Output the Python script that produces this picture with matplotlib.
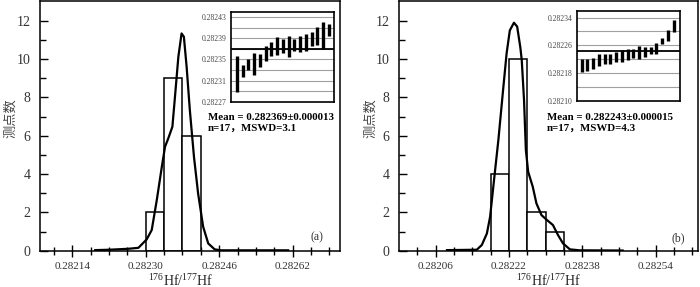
import numpy as np
import matplotlib
matplotlib.use("Agg")
import matplotlib.pyplot as plt
from matplotlib.ticker import FixedLocator, FixedFormatter

plt.rcParams['font.family'] = ['Liberation Serif', 'Noto Sans CJK SC']
plt.rcParams['mathtext.fontset'] = 'custom'
plt.rcParams['mathtext.rm'] = 'Liberation Serif'

# ---- panel (a) ----
a_edges = [0.28230, 0.28234, 0.28238, 0.28242]
a_counts = [2, 9, 6]
a_curve_x = [0.28219, 0.28222, 0.282262, 0.282284, 0.282302, 0.282313, 0.282324,
             0.282335, 0.282342, 0.282349, 0.282358, 0.282363, 0.282371, 0.282378,
             0.282383, 0.282389, 0.282396, 0.282405, 0.282414, 0.282425, 0.282436,
             0.28245, 0.282464, 0.28261]
a_curve_y = [0.03, 0.05, 0.1, 0.15, 0.59, 1.08, 2.64, 4.38, 5.43, 5.86, 6.47, 7.86,
             10.12, 11.34, 11.17, 9.6, 7.34, 4.9, 2.99, 1.25, 0.38, 0.07, 0.02, 0.02]
a_lo = [0.282289, 0.282317, 0.282329, 0.282320, 0.282335, 0.282347, 0.282356,
        0.282358, 0.282363, 0.282355, 0.282366, 0.282364, 0.282366, 0.282375,
        0.282378, 0.282369, 0.282395]
a_hi = [0.282357, 0.282340, 0.282351, 0.282363, 0.282360, 0.282376, 0.282383,
        0.282392, 0.282388, 0.282395, 0.282389, 0.282395, 0.282398, 0.282401,
        0.282411, 0.282420, 0.282416]
a_mean = 0.282369
a_text = ["Mean = 0.282369±0.000013", "n=17，MSWD=3.1"]

# ---- panel (b) ----
b_edges = [0.28218, 0.28222, 0.28226, 0.28230, 0.28234]
b_counts = [4, 10, 2, 1]
b_curve_x = [0.282085, 0.28215, 0.282161, 0.282172, 0.282179, 0.282186, 0.282197,
             0.282208, 0.282215, 0.282222, 0.282231, 0.282238, 0.282245, 0.282248,
             0.282253, 0.282257, 0.282262, 0.282272, 0.282280, 0.282291, 0.282303,
             0.282316, 0.282327, 0.282338, 0.282353, 0.282374, 0.282468]
b_curve_y = [0.03, 0.05, 0.3, 0.9, 1.77, 3.34, 5.77, 8.56, 10.3, 11.5, 11.9, 11.7,
             10.6, 9.95, 7.86, 5.25, 4.12, 3.34, 2.47, 1.86, 1.6, 1.34, 0.82, 0.38,
             0.07, 0.02, 0.01]
b_lo = [0.282182, 0.282184, 0.282192, 0.282201, 0.282206, 0.282206, 0.282211,
        0.282211, 0.282217, 0.282222, 0.282220, 0.282225, 0.282234, 0.282234,
        0.282263, 0.282272, 0.282299]
b_hi = [0.282220, 0.282220, 0.282222, 0.282234, 0.282234, 0.282234, 0.282239,
        0.282246, 0.282248, 0.282250, 0.282258, 0.282255, 0.282255, 0.282265,
        0.282282, 0.282305, 0.282333]
b_mean = 0.282243
b_text = ["Mean = 0.282243±0.000015", "n=17，MSWD=4.3"]

W, H = 700, 287
fig = plt.figure(figsize=(7, 2.87), dpi=100)


def px_rect(x0, x1, y0, y1):
    return [x0 / W, 1 - y1 / H, (x1 - x0) / W, (y1 - y0) / H]


def main_panel(rect, edges, counts, cx, cy, xlim, major, minor, tag, label_x):
    ax = fig.add_axes(rect)
    ax.bar(edges[:-1], counts, width=np.diff(edges), align='edge',
           facecolor='white', edgecolor='black', lw=1.1, zorder=2)
    ax.plot(cx, cy, color='black', lw=1.6, zorder=3)
    ax.set_xlim(*xlim)
    ax.set_ylim(0, 13.05)
    ax.xaxis.set_major_locator(FixedLocator(major))
    ax.xaxis.set_major_formatter(FixedFormatter(['%.5f' % v for v in major]))
    ax.xaxis.set_minor_locator(FixedLocator(minor))
    ax.yaxis.set_major_locator(FixedLocator(range(0, 13, 2)))
    ax.yaxis.set_minor_locator(FixedLocator(range(0, 13)))
    ax.tick_params(axis='x', which='major', direction='inout', length=8, width=1,
                   labelsize=8, pad=4, labelcolor='#333333')
    ax.tick_params(axis='x', which='minor', direction='inout', length=6, width=1)
    ax.tick_params(axis='y', which='major', direction='in', length=6, width=1,
                   labelsize=10, pad=7, labelcolor='#333333')
    ax.tick_params(axis='y', which='minor', direction='in', length=4.5, width=1)
    for s in ax.spines.values():
        s.set_linewidth(1.1)
    ax.set_xlabel(r'$^{176}$Hf/$^{177}$Hf', fontsize=10, color='#222222')
    ax.xaxis.set_label_coords(label_x, -0.085)
    ax.set_ylabel('测点数', fontsize=9.5, color='#444444',
                  family=['Noto Sans CJK SC', 'DejaVu Sans'])
    ax.yaxis.label.set_va('center')
    ax.yaxis.set_label_coords(-0.097, 0.53)
    ax.text(tag[1], tag[2], tag[0], transform=ax.transAxes, fontsize=8.5,
            ha='center', va='center', color='#333333')
    return ax


def inset(rect, lo, hi, mean, ylim, labels, grid, xlim):
    ax = fig.add_axes(rect)
    idx = np.arange(1, len(lo) + 1)
    for g in grid:
        ax.axhline(g, color='#a0a0a0', lw=0.8, zorder=1)
    ax.vlines(idx, lo, hi, color='black', lw=2.4, zorder=3)
    ax.axhline(mean, color='black', lw=1.3, zorder=2)
    ax.set_xlim(*xlim)
    ax.set_ylim(*ylim)
    ax.set_xticks([])
    ax.yaxis.set_major_locator(FixedLocator(labels))
    ax.yaxis.set_major_formatter(FixedFormatter(['%.5f' % v for v in labels]))
    ax.tick_params(axis='y', length=0, pad=3, labelsize=5.5, labelcolor='#444444')
    for s in ax.spines.values():
        s.set_linewidth(1.2)
    return ax


# panel (a)
main_panel(px_rect(40, 340, 0.7, 250.7), a_edges, a_counts, a_curve_x, a_curve_y,
           (0.2820697, 0.282723),
           [0.28214, 0.28230, 0.28246, 0.28262],
           [round(0.28210 + 0.00004 * i, 5) for i in range(16)],
           ('(a)', 0.923, 0.055), 0.47)
inset(px_rect(231, 334, 12.3, 101.7), a_lo, a_hi, a_mean, (0.28227, 0.282439),
      [0.28227, 0.28231, 0.28235, 0.28239, 0.28243],
      [round(0.28229 + 0.00002 * i, 5) for i in range(8)], (0.0, 17.9))
for k, s in enumerate(a_text):
    fig.text(207.7 / W, 1 - (117 + 11 * k) / H, s, fontsize=7.8, fontweight='bold',
             ha='left', va='center')

# panel (b)
main_panel(px_rect(399.3, 698.3, 0.7, 250.7), b_edges, b_counts, b_curve_x, b_curve_y,
           (0.281981, 0.282633),
           [0.28206, 0.28222, 0.28238, 0.28254],
           [round(0.28202 + 0.00004 * i, 5) for i in range(16)],
           ('(b)', 0.932, 0.05), 0.5)
inset(px_rect(576.7, 680, 11, 100.5), b_lo, b_hi, b_mean, (0.2821, 0.282359),
      [0.28210, 0.28218, 0.28226, 0.28234],
      [round(0.28214 + 0.00004 * i, 5) for i in range(6)], (0.15, 18.1))
for k, s in enumerate(b_text):
    fig.text(546.7 / W, 1 - (117 + 11 * k) / H, s, fontsize=7.8, fontweight='bold',
             ha='left', va='center')

fig.savefig("out.png", dpi=100)
